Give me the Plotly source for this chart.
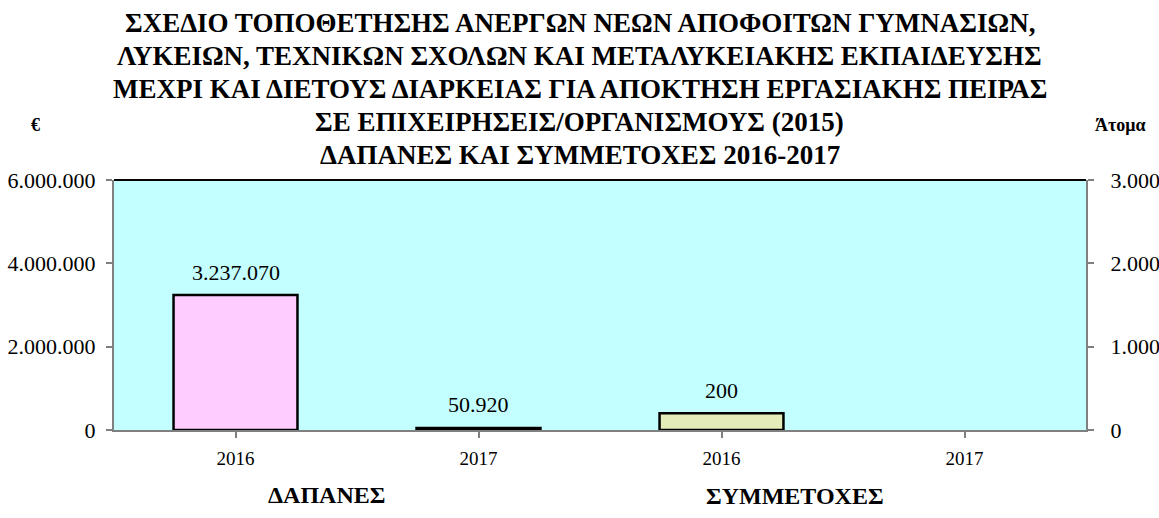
import plotly.graph_objects as go

# Data
x_pos = [0, 1, 2, 3]
tick_labels = ["2016", "2017", "2016", "2017"]
dapanes_x = [0, 1]
dapanes_vals = [3237070, 50920]
symm_x = [2, 3]
symm_vals = [200, None]
left_ticks = [0, 2000000, 4000000, 6000000]
right_ticks = [0, 1000, 2000, 3000]

title_lines = [
    "ΣΧΕΔΙΟ ΤΟΠΟΘΕΤΗΣΗΣ ΑΝΕΡΓΩΝ ΝΕΩΝ ΑΠΟΦΟΙΤΩΝ ΓΥΜΝΑΣΙΩΝ,",
    "ΛΥΚΕΙΩΝ, ΤΕΧΝΙΚΩΝ ΣΧΟΛΩΝ ΚΑΙ ΜΕΤΑΛΥΚΕΙΑΚΗΣ ΕΚΠΑΙΔΕΥΣΗΣ",
    "ΜΕΧΡΙ ΚΑΙ ΔΙΕΤΟΥΣ ΔΙΑΡΚΕΙΑΣ ΓΙΑ ΑΠΟΚΤΗΣΗ ΕΡΓΑΣΙΑΚΗΣ ΠΕΙΡΑΣ",
    "ΣΕ ΕΠΙΧΕΙΡΗΣΕΙΣ/ΟΡΓΑΝΙΣΜΟΥΣ (2015)",
    "ΔΑΠΑΝΕΣ ΚΑΙ ΣΥΜΜΕΤΟΧΕΣ 2016-2017",
]

FONT = "Liberation Serif, Times New Roman, serif"
BAR_W = 0.51
W, H = 1159, 518
ML, MR, MT, MB = 114, 73, 180, 88
plot_w = W - ML - MR
plot_h = H - MT - MB


def px_x(px):
    return (px - ML) / plot_w


def px_y(py):
    return (H - MB - py) / plot_h


fig = go.Figure()
fig.add_trace(go.Bar(
    x=dapanes_x, y=dapanes_vals, yaxis="y",
    width=BAR_W, offset=-BAR_W / 2,
    marker=dict(color="#FFCCFF", line=dict(color="black", width=2.5)),
    showlegend=False, hoverinfo="y",
))
fig.add_trace(go.Bar(
    x=symm_x, y=symm_vals, yaxis="y2",
    width=BAR_W, offset=-BAR_W / 2,
    marker=dict(color="#E4EDB9", line=dict(color="black", width=2.5)),
    showlegend=False, hoverinfo="y",
))

annotations = []
# data labels
for xv, yv in zip(dapanes_x, dapanes_vals):
    if yv is not None:
        annotations.append(dict(
            x=xv, y=yv, xref="x", yref="y", text=f"{yv:,d}".replace(",", "."),
            showarrow=False, xanchor="center", yanchor="middle", yshift=23,
            font=dict(family=FONT, size=22, color="black")))
for xv, yv in zip(symm_x, symm_vals):
    if yv is not None:
        annotations.append(dict(
            x=xv, y=yv, xref="x", yref="y2", text=f"{yv:,d}".replace(",", "."),
            showarrow=False, xanchor="center", yanchor="middle", yshift=23,
            font=dict(family=FONT, size=22, color="black")))

# title lines, one annotation each for exact line spacing
for i, line in enumerate(title_lines):
    annotations.append(dict(
        text=f"<b>{line}</b>",
        x=px_x(W / 2), y=px_y(23 + 33 * i), xref="paper", yref="paper",
        xanchor="center", yanchor="middle", showarrow=False,
        font=dict(family=FONT, size=27, color="black")))

# other labels
for txt, cx, cy, sz in [
    ("€", 35, 125, 18),
    ("Άτομα", 1120, 125, 18),
    ("ΔΑΠΑΝΕΣ", 326, 495, 24),
    ("ΣΥΜΜΕΤΟΧΕΣ", 795, 496, 24),
]:
    annotations.append(dict(
        text=f"<b>{txt}</b>", x=px_x(cx), y=px_y(cy), xref="paper", yref="paper",
        xanchor="center", yanchor="middle", showarrow=False,
        font=dict(family=FONT, size=sz, color="black")))

fig.update_layout(
    width=W, height=H,
    margin=dict(l=ML, r=MR, t=MT, b=MB, autoexpand=False),
    paper_bgcolor="white",
    plot_bgcolor="#C4FFFF",
    separators=",.",
    barmode="overlay",
    font=dict(family=FONT, size=20, color="black"),
    xaxis=dict(
        range=[-0.5, 3.5],
        tickvals=x_pos, ticktext=tick_labels,
        tickson="boundaries", ticks="outside", ticklen=6,
        tickcolor="#808080", tickwidth=1.5,
        showline=True, linecolor="#808080", linewidth=2,
        showgrid=False, zeroline=False, ticklabelstandoff=4,
        tickfont=dict(family=FONT, size=19),
    ),
    yaxis=dict(
        range=[0, 6000000], tickvals=left_ticks, tickformat=",d",
        ticks="outside", ticklen=6, tickcolor="#808080", tickwidth=1.5,
        showline=True, linecolor="#808080", linewidth=2,
        showgrid=False, zeroline=False, ticklabelstandoff=6,
        tickfont=dict(family=FONT, size=22),
    ),
    yaxis2=dict(
        range=[0, 3000], tickvals=right_ticks, tickformat=",d",
        overlaying="y", side="right",
        ticks="outside", ticklen=6, tickcolor="#808080", tickwidth=1.5,
        showline=True, linecolor="#808080", linewidth=2,
        showgrid=False, zeroline=False, ticklabelstandoff=12,
        tickfont=dict(family=FONT, size=22),
    ),
    shapes=[dict(type="line", xref="paper", yref="paper", x0=0, x1=1, y0=1, y1=1,
                 line=dict(color="black", width=2))],
    annotations=annotations,
)

fig.write_html("out.html", config={"displayModeBar": False},
               post_script="document.body.style.margin='0';")
